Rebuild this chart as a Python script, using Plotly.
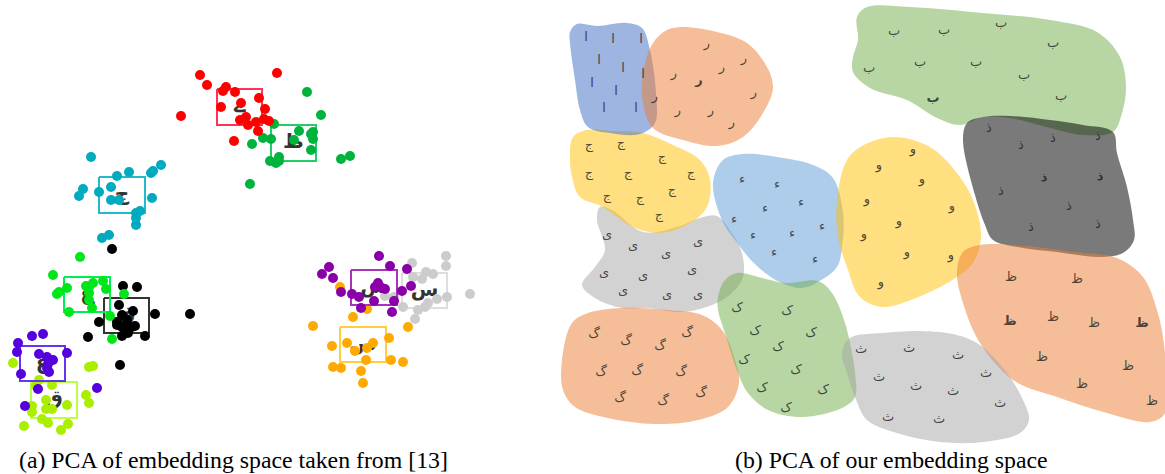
import plotly.graph_objects as go

# ---------- panel (a): PCA points ----------
red_pts = [(200,75),(207,85),(277,73),(223,91),(226,87),(235,92),(259,98),(241,103),(221,107),(265,109),(181,116),(240,120),(246,117),(248,125),(256,122),(264,119),(269,121),(258,131),(234,141)]
green_pts = [(307,92),(321,115),(274,124),(299,131),(313,132),(311,134),(313,139),(294,140),(263,138),(271,139),(252,144),(311,150),(279,157),(270,161),(276,163),(279,161),(341,159),(350,156),(250,184)]
cyan_pts = [(91,157),(161,165),(153,171),(151,173),(129,172),(117,176),(83,189),(79,196),(111,187),(99,192),(111,200),(119,200),(152,198),(140,211),(136,213),(136,218),(136,225),(109,235),(102,238)]
lime2_pts = [(80,257),(53,275),(59,292),(57,294),(67,288),(86,286),(93,283),(103,281),(106,289),(89,293),(89,300),(92,308),(69,312),(124,294),(110,316),(112,339),(89,287)]
black_pts = [(112,249),(123,286),(137,287),(119,305),(133,311),(155,314),(190,314),(99,322),(117,322),(122,315),(127,320),(132,327),(122,327),(117,325),(88,337),(122,336),(128,333),(145,336),(120,365),(135,326),(125,327)]
indigo_pts = [(32,336),(43,334),(18,343),(17,352),(39,354),(47,357),(53,360),(67,353),(48,364),(47,368),(49,372),(21,374),(38,389),(97,388),(25,406)]
yellowgreen_pts = [(13,363),(89,367),(93,366),(39,380),(36,386),(52,385),(86,395),(89,403),(46,400),(67,405),(32,406),(32,412),(46,409),(52,409),(42,419),(48,423),(24,426),(68,424),(61,430)]
purple_pts = [(379,256),(390,266),(407,269),(329,267),(322,274),(333,278),(341,292),(352,294),(359,297),(378,283),(382,288),(375,287),(385,289),(402,291),(411,286),(374,301),(394,301),(361,308),(392,312)]
silver_pts = [(446,256),(412,263),(446,266),(426,272),(433,274),(413,277),(422,279),(470,294),(447,297),(437,299),(385,296),(428,303),(425,307),(418,310),(403,307),(415,319),(394,297)]
orange_pts = [(340,287),(367,309),(353,317),(313,326),(408,327),(389,338),(332,346),(347,343),(373,343),(367,348),(355,351),(366,360),(391,360),(403,362),(333,367),(341,368),(361,371),(363,383)]

# points, point colour, box extent, box colour, sample glyph
clusters_a = [
    (silver_pts, "#cccccc", (402,273,447,308), "#dddddd", "س"),
    (orange_pts, "#ffaa00", (340,327,386,362), "#ffcc44", "س"),
    (purple_pts, "#8a00a8", (351,270,397,305), "#aa33bb", "س"),
    (green_pts, "#00b33c", (271,125,316,161), "#22cc66", "ظ"),
    (red_pts, "#ff0000", (217,89,262,125), "#ff3355", "ے"),
    (cyan_pts, "#00aabf", (99,177,145,213), "#22bbcc", "ج"),
    (black_pts, "#000000", (104,298,149,333), "#333333", "ق"),
    (lime2_pts, "#00e61a", (64,277,110,312), "#00ee55", "ع"),
    (yellowgreen_pts, "#aaee00", (31,382,77,418), "#bbff44", "ق"),
    (indigo_pts, "#5500dd", (20,346,65,381), "#6633ee", "ع"),
]

# ---------- panel (b): blob outlines and letters ----------
blob_dark_blue = [(570,32),(577,24),(597,26),(627,23),(642,28),(650,50),(656,93),(655,123),(640,134),(610,133),(588,127),(580,110),(575,80),(570,43)]
blob_orange1 = [(683,27),(717,32),(747,43),(767,67),(773,88),(763,113),(743,137),(717,146),(683,140),(653,128),(643,103),(643,73),(653,43),(667,30)]
blob_yellow1 = [(570,157),(573,137),(587,130),(613,131),(643,133),(673,145),(700,160),(710,180),(707,207),(690,223),(660,233),(633,227),(603,207),(580,197),(572,177)]
blob_gray_top = [(597,220),(600,207),(612,210),(643,232),(677,227),(700,218),(717,216),(733,235),(742,253),(743,277),(732,293),(712,305),(682,312),(648,308),(622,308),(595,298),(582,285),(595,267),(605,250)]
blob_light_blue = [(713,183),(723,160),(743,154),(777,157),(813,165),(833,178),(843,213),(842,247),(837,267),(818,282),(802,288),(782,283),(758,267),(735,240),(722,220)]
blob_yellow2 = [(893,137),(930,147),(957,173),(973,200),(981,237),(973,263),(957,277),(923,295),(883,307),(860,297),(847,267),(838,237),(837,200),(847,160),(862,146)]
blob_green_top = [(857,17),(867,7),(910,7),(983,13),(1050,20),(1097,32),(1120,57),(1126,87),(1122,113),(1113,132),(1083,135),(1050,128),(1010,118),(983,117),(960,125),(937,118),(907,100),(870,88),(853,72),(853,57),(858,40)]
blob_dark = [(963,140),(967,123),(983,117),(1010,116),(1050,120),(1083,125),(1113,132),(1117,153),(1127,187),(1133,220),(1134,240),(1123,253),(1100,257),(1057,252),(1023,248),(993,240),(985,225),(975,195)]
blob_orange2 = [(957,273),(963,252),(980,245),(1027,246),(1073,252),(1117,258),(1143,277),(1157,310),(1165,353),(1165,413),(1150,422),(1107,413),(1057,397),(1013,380),(980,343),(963,303)]
blob_orange3 = [(562,360),(572,323),(588,313),(622,308),(668,310),(702,315),(722,330),(735,360),(739,383),(728,407),(698,420),(655,424),(608,418),(575,407),(563,390)]
blob_green_low = [(718,297),(725,280),(737,273),(762,278),(785,283),(818,281),(832,293),(845,323),(855,373),(855,397),(842,408),(802,417),(768,410),(748,393),(738,373),(725,333),(718,310)]
blob_gray_low = [(842,353),(850,338),(883,333),(920,331),(957,335),(980,345),(1007,373),(1023,400),(1029,420),(1020,433),(983,442),(940,442),(897,433),(867,420),(855,397),(847,373)]

alif_pos = [(586,38),(613,40),(641,40),(599,61),(623,69),(643,75),(592,84),(616,92),(604,109),(636,109)]
re_pos = [(707,44),(744,59),(722,68),(674,74),(699,81),(655,97),(754,93),(678,111),(711,111),(732,123)]
jeem_pos = [(589,146),(621,144),(662,158),(589,174),(628,174),(691,174),(672,191),(607,197),(640,199),(659,216)]
hamza_pos = [(742,180),(777,185),(801,203),(765,209),(734,220),(753,236),(792,234),(822,227),(774,253),(815,260)]
be_pos = [(894,32),(944,31),(1001,24),(1053,44),(869,69),(920,63),(976,63),(1024,76),(933,99),(1061,97)]
zal_pos = [(989,129),(1021,146),(1053,139),(1098,137),(1044,179),(1100,178),(1001,192),(1069,207),(1031,228),(1098,225)]
waw_pos = [(913,150),(879,166),(922,180),(867,200),(952,207),(899,222),(864,235),(907,253),(951,256),(881,283)]
ye_pos = [(607,235),(633,246),(666,254),(698,242),(604,273),(643,276),(692,270),(623,291),(667,295),(698,295)]
gaf_pos = [(594,335),(626,342),(660,347),(687,334),(601,373),(637,372),(681,373),(620,399),(663,402),(701,394)]
kaf_pos = [(737,309),(787,312),(755,332),(811,334),(778,348),(744,361),(796,371),(762,389),(823,391),(786,409)]
se_pos = [(861,350),(909,349),(958,356),(986,374),(879,378),(916,387),(953,392),(1000,404),(888,418),(939,420)]
zoe_pos = [(1011,278),(1077,280),(1010,322),(1053,318),(1094,324),(1142,324),(1042,358),(1128,367),(1082,385),(1152,402)]
heavy_pos = [(699,81),(933,99),(1044,179),(1100,178),(1010,322),(1142,324)]

clusters_b = [
    (blob_gray_top, "rgba(165,165,165,0.5)", ye_pos, "ی"),
    (blob_yellow1, "rgba(255,192,0,0.5)", jeem_pos, "ج"),
    (blob_dark_blue, "rgba(68,114,196,0.52)", alif_pos, "ا"),
    (blob_orange1, "rgba(237,125,49,0.5)", re_pos, "ر"),
    (blob_light_blue, "rgba(91,155,213,0.5)", hamza_pos, "ء"),
    (blob_yellow2, "rgba(255,192,0,0.5)", waw_pos, "و"),
    (blob_green_top, "rgba(112,173,71,0.5)", be_pos, "ب"),
    (blob_dark, "rgba(0,0,0,0.52)", zal_pos, "ذ"),
    (blob_orange2, "rgba(237,125,49,0.5)", zoe_pos, "ظ"),
    (blob_orange3, "rgba(237,125,49,0.5)", gaf_pos, "گ"),
    (blob_green_low, "rgba(112,173,71,0.5)", kaf_pos, "ک"),
    (blob_gray_low, "rgba(165,165,165,0.5)", se_pos, "ث"),
]

caption_a = "(a) PCA of embedding space taken from [13]"
caption_b = "(b) PCA of our embedding space"

fig = go.Figure()

# panel (a)
for pts, col, box, box_col, glyph in clusters_a:
    x0, y0, x1, y1 = box
    fig.add_trace(go.Scatter(x=[x0, x1, x1, x0, x0], y=[y0, y0, y1, y1, y0], mode="lines",
                             line=dict(color=box_col, width=2), hoverinfo="skip"))
    fig.add_trace(go.Scatter(x=[(x0+x1)/2], y=[(y0+y1)/2], mode="text", text=[f"<b>{glyph}</b>"],
                             textfont=dict(family="DejaVu Sans", size=20, color="#333333"),
                             textposition="middle center", hoverinfo="skip"))
    fig.add_trace(go.Scatter(x=[p[0] for p in pts], y=[p[1] for p in pts], mode="markers",
                             marker=dict(color=col, size=10, line=dict(width=0))))

# panel (b)
for outline, col, pos, ch in clusters_b:
    closed = outline + outline[:1]
    fig.add_trace(go.Scatter(x=[p[0] for p in closed], y=[p[1] for p in closed], mode="lines",
                             line=dict(shape="spline", smoothing=1.0, width=0, color="rgba(0,0,0,0)"),
                             fill="toself", fillcolor=col, hoverinfo="skip"))
for outline, col, pos, ch in clusters_b:
    fig.add_trace(go.Scatter(x=[p[0] for p in pos], y=[p[1] for p in pos], mode="text",
                             text=[f"<b>{ch}</b>" if p in heavy_pos else ch for p in pos],
                             textfont=dict(family="DejaVu Sans", size=13, color="rgba(30,30,30,0.8)"),
                             textposition="middle center", hoverinfo="skip"))

fig.update_layout(
    width=1165, height=474,
    margin=dict(l=0, r=0, t=0, b=0),
    showlegend=False,
    paper_bgcolor="white", plot_bgcolor="white",
    xaxis=dict(range=[0, 1165], visible=False, fixedrange=True),
    yaxis=dict(range=[474, 0], visible=False, fixedrange=True),
    annotations=[
        dict(x=233, y=460, xref="x", yref="y", text=caption_a, showarrow=False,
             font=dict(family="Liberation Serif", size=23.8, color="black")),
        dict(x=891, y=460, xref="x", yref="y", text=caption_b, showarrow=False,
             font=dict(family="Liberation Serif", size=23.8, color="black")),
    ],
)

fig.write_html("out.html", config=dict(displayModeBar=False),
               post_script="document.body.style.margin='0';document.body.style.overflow='hidden';")
